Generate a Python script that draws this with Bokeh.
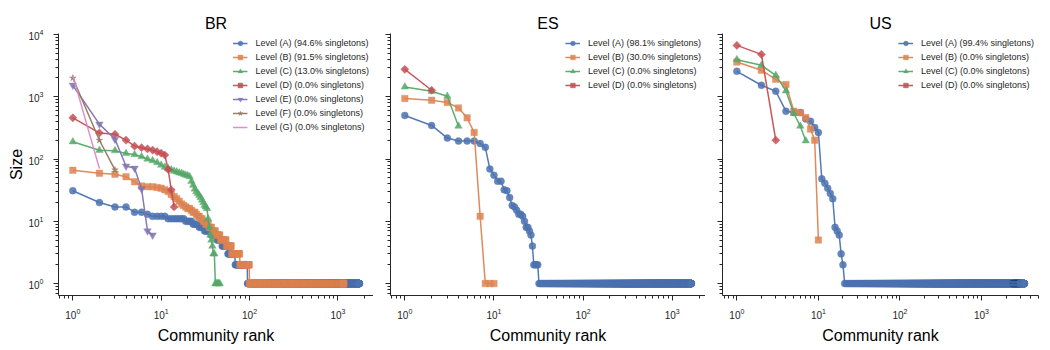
import math
from bokeh.plotting import figure
from bokeh.layouts import row
from bokeh.models import Range1d
from bokeh.embed import file_html
from bokeh.resources import INLINE

# ---------------- data (non-singleton community sizes, by rank) ----------------
panel_names = ["BR", "ES", "US"]
level_names = ["A", "B", "C", "D", "E", "F", "G"]

br_a = [31, 20, 17, 17, 14, 14, 13, 12, 12, 12, 12,
        11, 11, 11, 11, 11, 11, 11, 10, 10, 10, 10,
        9, 9, 9, 9, 8, 8, 8, 8, 7, 7, 7, 7, 7, 7,
        6, 6, 6, 6, 6, 6, 5, 5, 5, 5, 5, 5,
        4, 4, 4, 4, 4, 4, 4, 4,
        3, 3, 3, 3, 3, 3, 3, 3, 3, 3, 3, 3,
        2, 2, 2, 2, 2, 2, 2, 2, 2, 2, 2, 2, 2,
        2, 2, 2, 2, 2, 2, 2, 2, 2, 2, 2, 2, 2]
br_b = [66, 59, 57, 52, 43, 37, 36, 36, 35, 34, 32,
        30, 27, 25, 23, 21, 19, 18, 17, 16, 16, 15, 14, 14, 13, 12, 12, 11, 11, 10, 10,
        9, 9, 9, 8, 8, 8, 7, 7, 7, 7, 6, 6, 6, 6, 6,
        5, 5, 5, 5, 5, 5, 5, 5,
        4, 4, 4, 4, 4, 4, 4, 4,
        3, 3, 3, 3, 3, 3, 3, 3, 3, 3, 3, 3, 3, 3, 3,
        2, 2, 2, 2, 2, 2, 2, 2, 2, 2, 2,
        2, 2, 2, 2, 2, 2, 2, 2, 2, 2, 2]
br_c = [189, 138, 136, 123, 118, 109, 100, 94, 88, 80,
        74, 70, 67, 64, 62, 60, 59, 57, 55, 54,
        52, 44, 38, 33, 30, 28, 26, 24, 22, 20,
        18, 17, 16, 11, 8, 6, 5, 4, 3, 3]
br_d = [458, 262, 250, 201, 161, 152, 145, 139, 131, 124, 116, 68, 32, 17]
br_e = [1528, 363, 207, 77, 71, 33, 7, 6]
br_f = [2000, 200, 67]
br_g = [2200, 70]
br_singletons = [1647, 1061, 6, 0, 0, 0, 0]
br_pct = ["94.6", "91.5", "13.0", "0.0", "0.0", "0.0", "0.0"]

es_a = [500, 346, 217, 194, 194, 194, 178, 154, 69, 55, 44, 44, 32, 31, 24, 18,
        17, 15, 13, 13, 12, 10, 8, 8, 7, 6, 4, 2, 2, 2, 2]
es_b = [935, 879, 807, 662, 458, 267, 12]
es_c = [1436, 1225, 1019, 337]
es_d = [2754, 1270]
es_singletons = [1599, 3, 0, 0]
es_pct = ["98.1", "30.0", "0.0", "0.0"]

us_a = [2559, 1528, 1225, 586, 560, 560, 441, 405, 321, 267,
        48, 41, 34, 28, 23, 8, 7, 6, 3, 2]
us_b = [3606, 2655, 1905, 1567, 586, 551, 464, 302, 201, 5]
us_c = [3937, 3191, 2208, 1239, 538, 337, 196]
us_d = [6668, 4786, 201]
us_singletons = [3313, 0, 0, 0]
us_pct = ["99.4", "0.0", "0.0", "0.0"]

panels = [
    ([br_a, br_b, br_c, br_d, br_e, br_f, br_g], br_singletons, br_pct),
    ([es_a, es_b, es_c, es_d], es_singletons, es_pct),
    ([us_a, us_b, us_c, us_d], us_singletons, us_pct),
]

# ---------------- style ----------------
COLORS = ["#4C72B0", "#DD8452", "#55A868", "#C44E52", "#8172B3", "#937860", "#DA8BC3"]
MARKERS = ["circle", "square", "triangle", "square", "inverted_triangle", "star", None]
ANGLES = [0, 0, 0, math.pi / 4, 0, 0, 0]
MSIZES = [7, 6.5, 7.5, 5.8, 7.5, 7, 0]
FONT = "Liberation Sans"
INK = "#262626"


def full_series(top, n_single):
    sizes = list(top) + [1] * n_single
    ranks = list(range(1, len(sizes) + 1))
    return ranks, sizes


all_max = max(max(s) for series, _, _ in panels for s in series)
ylog = math.log10(all_max)
ypad = 0.05 * ylog

frame_widths = [315, 315, 316]
left_borders = [58, 17, 17]
right_borders = [0, 0, 2]

figs = []
for i, (name, (series, singles, pcts)) in enumerate(zip(panel_names, panels)):
    n_max = max(len(s) + k for s, k in zip(series, singles))
    xlog = math.log10(n_max)
    xpad = 0.05 * xlog
    p = figure(x_axis_type="log", y_axis_type="log",
               x_range=Range1d(10 ** (-xpad), 10 ** (xlog + xpad)),
               y_range=Range1d(10 ** (-ypad), 10 ** (ylog + ypad)),
               frame_width=frame_widths[i], frame_height=262,
               min_border_left=left_borders[i], min_border_right=right_borders[i],
               min_border_top=33, min_border_bottom=50,
               toolbar_location=None, output_backend="svg", title=name)
    p.outline_line_color = None
    p.xgrid.visible = False
    p.ygrid.visible = False
    p.background_fill_color = "white"
    p.border_fill_color = "white"

    p.title.align = "center"
    p.title.text_font = FONT
    p.title.text_font_size = "16px"
    p.title.text_font_style = "normal"
    p.title.text_color = "black"
    p.title.standoff = 4

    for ax in (p.xaxis[0], p.yaxis[0]):
        ax.axis_line_color = INK
        ax.axis_line_width = 1
        ax.major_tick_line_color = INK
        ax.minor_tick_line_color = INK
        ax.major_tick_in = 0
        ax.major_tick_out = 5
        ax.minor_tick_in = 0
        ax.minor_tick_out = 3
        ax.major_label_text_font = FONT
        ax.major_label_text_font_size = "10px"
        ax.major_label_text_color = INK
        ax.axis_label_text_font = FONT
        ax.axis_label_text_font_size = "16px"
        ax.axis_label_text_font_style = "normal"
        ax.axis_label_text_color = "black"
        ax.axis_label_standoff = 5
    p.xaxis.major_label_standoff = 7
    p.yaxis.major_label_standoff = 10
    p.yaxis.axis_label_standoff = 0

    p.xaxis.axis_label = "Community rank"
    if i == 0:
        p.yaxis.axis_label = "Size"
    else:
        p.yaxis.major_label_text_font_size = "1px"
        p.yaxis.major_label_text_alpha = 0
        p.yaxis.major_label_standoff = 0

    for j, (top, k) in enumerate(zip(series, singles)):
        ranks, sizes = full_series(top, k)
        label = f"Level ({level_names[j]}) ({pcts[j]}% singletons)"
        p.line(ranks, sizes, line_color=COLORS[j], line_width=1.5, line_alpha=0.95,
               legend_label=label)
        if MARKERS[j] is not None:
            p.scatter(ranks, sizes, marker=MARKERS[j], size=MSIZES[j], angle=ANGLES[j],
                      fill_color=COLORS[j], fill_alpha=0.85,
                      line_color=COLORS[j], line_alpha=0.35, line_width=1,
                      legend_label=label)

    lg = p.legend[0]
    lg.location = "top_right"
    lg.border_line_color = None
    lg.background_fill_alpha = 0
    lg.label_text_font = FONT
    lg.label_text_font_size = "9px"
    lg.label_text_color = INK
    lg.glyph_width = 15
    lg.glyph_height = 12
    lg.label_height = 12
    lg.label_standoff = 8
    lg.spacing = 2
    lg.padding = 4
    lg.margin = 4
    figs.append(p)

layout = row(*figs)
open("out.html", "w").write(file_html(layout, INLINE))
